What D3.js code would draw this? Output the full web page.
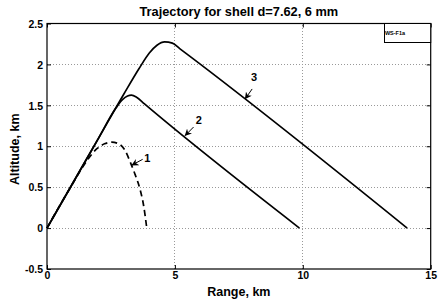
<!DOCTYPE html>
<html>
<head>
<meta charset="utf-8">
<script src="https://cdn.jsdelivr.net/npm/d3@7"></script>
<style>
  body { margin: 0; background: #fff; }
  text { font-family: 'Liberation Sans', Arial, sans-serif; font-weight: bold; fill: #000; }
</style>
</head>
<body>
<div id="chart"></div>
<script>
// -- DATA --

titleText = 'Trajectory for shell d=7.62, 6 mm'
xLabel = 'Range, km'
yLabel = 'Altitude, km'
boxLabel = 'WS-F1a'

xTicks = [0, 5, 10, 15]
yTicks = [-0.5, 0, 0.5, 1, 1.5, 2, 2.5]
xGrid = [5, 10]
yGrid = [0, 0.5, 1, 1.5, 2]

// [range km, altitude km]
curve1 = [[0, 0], [0.6, 0.33], [1.0, 0.54], [1.3, 0.7], [1.6, 0.84], [1.95, 0.97], [2.25, 1.03],
  [2.53, 1.05], [2.8, 1.03], [3.05, 0.95], [3.25, 0.81], [3.45, 0.65], [3.64, 0.47], [3.78, 0.27], [3.9, 0]]
curve2 = [[0, 0], [1, 0.545], [2, 1.09], [2.7, 1.47], [2.95, 1.57], [3.15, 1.615], [3.3, 1.625],
  [3.5, 1.6], [3.8, 1.52], [9.87, 0]]
curve3 = [[0, 0], [1, 0.545], [2, 1.09], [3, 1.635], [3.6, 1.95], [4.0, 2.14], [4.3, 2.235],
  [4.6, 2.275], [4.9, 2.26], [5.2, 2.19], [14.08, 0]]

// arrow labels: tip, tail, text position
notes = [
  {label: '1', tip: [3.32, 0.77], tail: [3.74, 0.84], pos: [3.92, 0.86]},
  {label: '2', tip: [5.40, 1.13], tail: [5.73, 1.235], pos: [5.93, 1.32]},
  {label: '3', tip: [7.75, 1.58], tail: [8.02, 1.70], pos: [8.09, 1.85]}
]

// -- GLOBAL --

width = 446
height = 302
margin = {left: 47, right: 15.3, top: 23.5, bottom: 33}

var svg = d3.select('#chart').append('svg')
  .attr('width', width)
  .attr('height', height)

var xMap = d3.scaleLinear()
  .domain([0, 15])
  .range([margin.left, width - margin.right])

var yMap = d3.scaleLinear()
  .domain([-0.5, 2.5])
  .range([height - margin.bottom, margin.top])

// -- GRID --

var gGrid = svg.append('g')
  .style('stroke', '#999')
  .style('stroke-width', '1px')
  .style('stroke-dasharray', '1,2')
  .style('shape-rendering', 'crispEdges')

gGrid.selectAll('.gx')
  .data(xGrid)
  .enter().append('line')
    .attr('x1', d => xMap(d))
    .attr('x2', d => xMap(d))
    .attr('y1', yMap(-0.5))
    .attr('y2', yMap(2.5))

gGrid.selectAll('.gy')
  .data(yGrid)
  .enter().append('line')
    .attr('x1', xMap(0))
    .attr('x2', xMap(15))
    .attr('y1', d => yMap(d))
    .attr('y2', d => yMap(d))

// -- AXES --

var xAxis = d3.axisBottom(xMap)
  .tickValues(xTicks)
  .tickSizeInner(-4)
  .tickSizeOuter(0)
  .tickPadding(3)
  .tickFormat(d3.format('d'))

var yAxis = d3.axisLeft(yMap)
  .tickValues(yTicks)
  .tickSizeInner(-4)
  .tickSizeOuter(0)
  .tickPadding(4)
  .tickFormat(d => d)

var gX = svg.append('g')
  .attr('transform', 'translate(0,' + yMap(-0.5) + ')')
  .call(xAxis)

var gY = svg.append('g')
  .attr('transform', 'translate(' + xMap(0) + ',0)')
  .call(yAxis)

// top and right ticks
svg.append('g')
  .attr('transform', 'translate(0,' + yMap(2.5) + ')')
  .call(d3.axisTop(xMap).tickValues(xTicks).tickSizeInner(-4).tickSizeOuter(0).tickFormat(''))
svg.append('g')
  .attr('transform', 'translate(' + xMap(15) + ',0)')
  .call(d3.axisRight(yMap).tickValues(yTicks).tickSizeInner(-4).tickSizeOuter(0).tickFormat(''))

svg.selectAll('.domain').remove()
svg.selectAll('.tick line')
  .style('stroke', '#000')
  .style('stroke-width', '1px')

gX.selectAll('text')
  .style('font-size', '10.5px')
gY.selectAll('text')
  .style('font-size', '10.5px')
  .attr('dy', '0.35em')

// box
svg.append('rect')
  .attr('x', xMap(0))
  .attr('y', yMap(2.5))
  .attr('width', xMap(15) - xMap(0))
  .attr('height', yMap(-0.5) - yMap(2.5))
  .style('fill', 'none')
  .style('stroke', '#000')
  .style('stroke-width', '1.2px')

// -- CURVES --

var line = d3.line()
  .x(d => xMap(d[0]))
  .y(d => yMap(d[1]))
  .curve(d3.curveMonotoneX)

var gLines = svg.append('g')
  .style('fill', 'none')
  .style('stroke', '#000')
  .style('stroke-width', '1.7px')
  .style('stroke-linejoin', 'round')

gLines.append('path').attr('d', line(curve3))
gLines.append('path').attr('d', line(curve2))
gLines.append('path').attr('d', line(curve1))
  .style('stroke-dasharray', '6,4')

// -- ARROWS --

svg.append('defs').append('marker')
  .attr('id', 'head')
  .attr('viewBox', '0 0 10 10')
  .attr('refX', 9)
  .attr('refY', 5)
  .attr('markerWidth', 7)
  .attr('markerHeight', 7)
  .attr('markerUnits', 'userSpaceOnUse')
  .attr('orient', 'auto')
  .append('path')
    .attr('d', 'M0,0 L10,5 L0,10 L3,5 Z')
    .style('fill', '#000')

var gNote = svg.append('g')

gNote.selectAll('line')
  .data(notes)
  .enter().append('line')
    .attr('x1', d => xMap(d.tail[0]))
    .attr('y1', d => yMap(d.tail[1]))
    .attr('x2', d => xMap(d.tip[0]))
    .attr('y2', d => yMap(d.tip[1]))
    .style('stroke', '#000')
    .style('stroke-width', '1px')
    .attr('marker-end', 'url(#head)')

gNote.selectAll('text')
  .data(notes)
  .enter().append('text')
    .attr('x', d => xMap(d.pos[0]))
    .attr('y', d => yMap(d.pos[1]))
    .attr('dy', '0.35em')
    .style('font-size', '11px')
    .style('text-anchor', 'middle')
    .text(d => d.label)

// -- LEGEND BOX --

svg.append('rect')
  .attr('x', 384.5)
  .attr('y', yMap(2.5))
  .attr('width', xMap(15) - 384.5)
  .attr('height', 19)
  .style('fill', '#fff')
  .style('stroke', '#000')
  .style('stroke-width', '1px')

svg.append('text')
  .attr('x', 395)
  .attr('y', yMap(2.5) + 10)
  .attr('dy', '0.35em')
  .style('font-size', '5.5px')
  .style('text-anchor', 'middle')
  .text(boxLabel)

// -- TITLES --

svg.append('text')
  .attr('x', (xMap(0) + xMap(15)) / 2)
  .attr('y', 16)
  .style('font-size', '12.8px')
  .style('text-anchor', 'middle')
  .text(titleText)

svg.append('text')
  .attr('x', (xMap(0) + xMap(15)) / 2)
  .attr('y', 296)
  .style('font-size', '12.5px')
  .style('text-anchor', 'middle')
  .text(xLabel)

svg.append('text')
  .attr('transform', 'translate(19,' + ((yMap(-0.5) + yMap(2.5)) / 2 + 3) + ') rotate(-90)')
  .style('font-size', '12.5px')
  .style('text-anchor', 'middle')
  .text(yLabel)
</script>
</body>
</html>
